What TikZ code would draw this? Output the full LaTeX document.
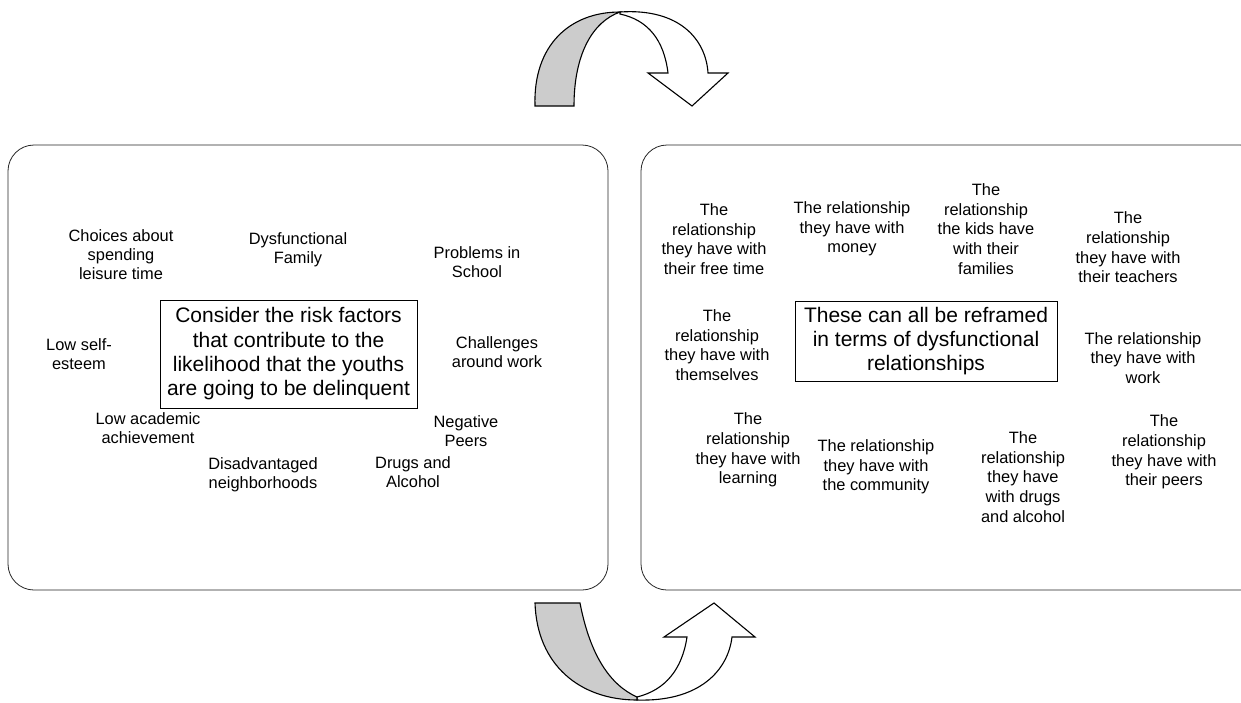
\documentclass[tikz,border=0pt]{standalone}
\usepackage{fontspec}
\setmainfont{Liberation Sans}
\begin{document}
\begin{tikzpicture}[x=1pt,y=-1pt,
  panel/.style={draw=black!85,line width=0.8pt,rounded corners=26pt},
  item/.style={align=center,inner sep=0pt,font=\fontsize{16.4}{19}\selectfont},
  ritem/.style={align=center,inner sep=0pt,font=\fontsize{16.4}{19.7}\selectfont},
  core/.style={draw,line width=0.8pt,align=center,inner sep=2pt,font=\fontsize{21}{24.3}\selectfont},
  arr/.style={draw,line width=1.1pt,line join=miter}]
\useasboundingbox (0,0) rectangle (1241,702);
% panels
\draw[panel] (8,145) rectangle (608,590);
\draw[panel] (641,145) rectangle (1266,590);
% left panel
\node[core,minimum width=257pt,minimum height=108pt] (c1) at (288.5,354) {Consider the risk factors\\that contribute to the\\likelihood that the youths\\are going to be delinquent};
\node[item] (l1) at (121,255) {Choices about\\spending\\leisure time};
\node[item] (l2) at (298,250) {Dysfunctional\\Family};
\node[item] (l3) at (477,262) {Problems in\\School};
\node[item] (l4) at (79,354) {Low self-\\esteem};
\node[item] (l5) at (497,352) {Challenges\\around work};
\node[item] (l6) at (148,428.5) {Low academic\\achievement};
\node[item] (l7) at (466,431) {Negative\\Peers};
\node[item] (l8) at (263,475) {Disadvantaged\\neighborhoods};
\node[item] (l9) at (413,472.5) {Drugs and\\Alcohol};
% right panel
\node[core,minimum width=262pt,minimum height=80pt] (c2) at (926,341) {These can all be reframed\\in terms of dysfunctional\\relationships};
\node[ritem] (r1) at (714,239) {The\\relationship\\they have with\\their free time};
\node[ritem] (r2) at (852,229) {The relationship\\they have with\\money};
\node[ritem] (r3) at (986,229) {The\\relationship\\the kids have\\with their\\families};
\node[ritem] (r4) at (1128,247.5) {The\\relationship\\they have with\\their teachers};
\node[ritem] (r5) at (717,345) {The\\relationship\\they have with\\themselves};
\node[ritem] (r6) at (1143,358) {The relationship\\they have with\\work};
\node[ritem] (r7) at (748,450) {The\\relationship\\they have with\\learning};
\node[ritem] (r8) at (876,467) {The relationship\\they have with\\the community};
\node[ritem] (r9) at (1023,477) {The\\relationship\\they have\\with drugs\\and alcohol};
\node[ritem] (r10) at (1164,452) {The\\relationship\\they have with\\their peers};
% top curved arrow
\path[arr,fill=white] (620,12) .. controls (680,8) and (706,40) .. (708,73) -- (728,73) -- (692,106) -- (648,73) -- (668,73) .. controls (664,40) and (648,20) .. (620,14) -- cycle;
\path[arr,fill=black!20] (535,106) .. controls (533,45) and (570,12) .. (620,12) .. controls (592,22) and (574,55) .. (574,106) -- cycle;
% bottom curved arrow
\path[arr,fill=white] (637,700) .. controls (700,702) and (728,670) .. (732,637) -- (755,637) -- (714,603) -- (664,637) -- (687,637) .. controls (682,670) and (665,690) .. (637,697) -- cycle;
\path[arr,fill=black!20] (535,603) -- (580,603) .. controls (590,655) and (610,685) .. (637,697) -- (637,700) .. controls (580,700) and (537,665) .. (535,603) -- cycle;
\end{tikzpicture}
\end{document}
